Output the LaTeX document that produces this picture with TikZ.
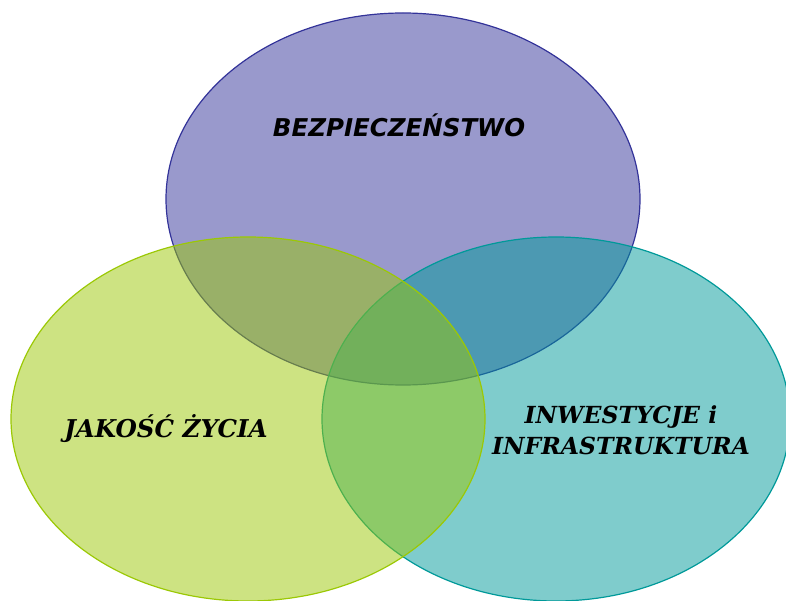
\documentclass[tikz,border=0pt]{standalone}
\usepackage{fontspec}
\newfontfamily\headsans{DejaVu Sans}
\newfontfamily\headserif{DejaVu Serif}
\usetikzlibrary{positioning}
\definecolor{violetarea}{RGB}{51,51,153}
\definecolor{limearea}{RGB}{155,200,5}
\definecolor{tealarea}{RGB}{0,153,153}

\begin{document}
\begin{tikzpicture}[x=0.5bp, y=-0.5bp, area/.style={fill=#1, fill opacity=0.5, draw=#1, line width=0.6bp}, titlesans/.style={font=\headsans\bfseries\itshape\fontsize{12.3}{16}\selectfont, inner sep=0pt}, titleserif/.style={font=\headserif\bfseries\itshape\fontsize{11.8}{15.5}\selectfont, inner sep=0pt, align=center}]
\useasboundingbox (0,0) rectangle (786,601);
% three overlapping areas
\path[area=violetarea] (403,199) ellipse [x radius=237, y radius=186];
\path[area=tealarea] (556,419) ellipse [x radius=234, y radius=182];
\path[area=limearea] (248,419) ellipse [x radius=237, y radius=182];
% names
\node[titlesans, anchor=base] (bez) at (399,137) {BEZPIECZEŃSTWO};
\node[titleserif, anchor=base, font=\headserif\bfseries\itshape\fontsize{12.3}{16}\selectfont] (jak) at (166,437) {JAKOŚĆ ŻYCIA};
\node[titleserif] (inw) at (621,430) {INWESTYCJE i\\INFRASTRUKTURA};
\end{tikzpicture}
\end{document}
